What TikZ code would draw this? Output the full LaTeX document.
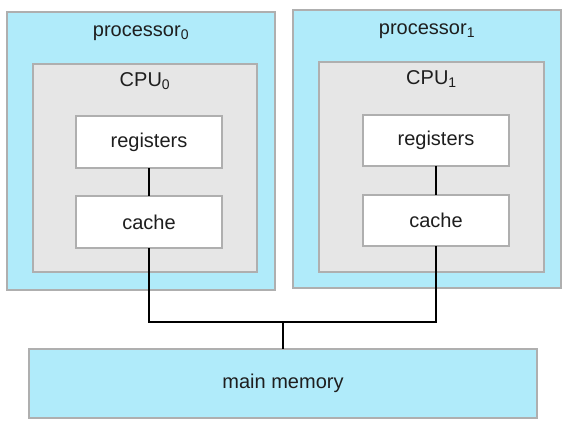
\documentclass[tikz,border=0pt]{standalone}
\usepackage{fontspec}
\setmainfont{Liberation Sans}
\definecolor{boxblue}{RGB}{176,235,250}
\definecolor{cpugray}{RGB}{230,230,230}
\definecolor{edgegray}{RGB}{175,175,175}
\definecolor{textgray}{RGB}{30,30,30}
\begin{document}
\begin{tikzpicture}[x=1pt,y=-1pt,
  box/.style={draw=edgegray,line width=1.4pt,inner sep=0pt,outer sep=0pt},
  procbox/.style={box,fill=boxblue},
  cpubox/.style={box,fill=cpugray},
  unitbox/.style={box,fill=white,font=\fontsize{20}{24}\selectfont,text=textgray},
  title/.style={font=\fontsize{20}{24}\selectfont,text=textgray,inner sep=0pt},
  wire/.style={line width=2.2pt,black}]
\useasboundingbox (0,0) rectangle (574,425);
% processor 0
\node[procbox,minimum width=268pt,minimum height=278pt] (p0) at (141,151) {};
\node[title] (p0t) at (141,33) {processor\textsubscript{0}};
\node[cpubox,minimum width=224pt,minimum height=208pt] (c0) at (145,168) {};
\node[title] (c0t) at (145,81) {CPU\textsubscript{0}};
\node[unitbox,minimum width=146pt,minimum height=52pt] (r0) at (149,142) {registers};
\node[unitbox,minimum width=146pt,minimum height=52pt] (k0) at (149,222) {cache};
% processor 1
\node[procbox,minimum width=268pt,minimum height=278pt] (p1) at (427,149) {};
\node[title] (p1t) at (427,31) {processor\textsubscript{1}};
\node[cpubox,minimum width=225pt,minimum height=210pt] (c1) at (431.5,167) {};
\node[title] (c1t) at (431.5,79) {CPU\textsubscript{1}};
\node[unitbox,minimum width=146pt,minimum height=51pt] (r1) at (436,140.5) {registers};
\node[unitbox,minimum width=146pt,minimum height=51pt] (k1) at (436,220.5) {cache};
% main memory
\node[procbox,minimum width=508pt,minimum height=69pt,font=\fontsize{20}{24}\selectfont,text=textgray] (mem) at (283,383.5) {main memory};
% connectors
\coordinate (bus) at (283,322);
\draw[wire] (r0) -- (k0);
\draw[wire] (r1) -- (k1);
\draw[wire] (k0.south) |- (bus) -| (k1.south);
\draw[wire] (bus) -- (mem.north);
\end{tikzpicture}
\end{document}
